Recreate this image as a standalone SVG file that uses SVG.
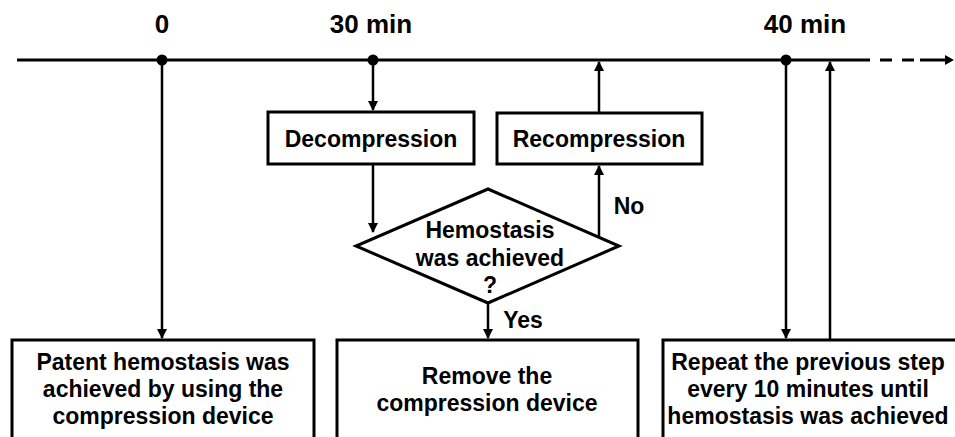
<svg xmlns="http://www.w3.org/2000/svg" width="955" height="437" viewBox="0 0 955 437">
<defs>
<marker id="ah" viewBox="0 0 10 10" refX="9" refY="5" markerWidth="4.2" markerHeight="4.2" orient="auto" markerUnits="strokeWidth">
<path d="M0,0 L10,5 L0,10 Z" fill="#000"/>
</marker>
</defs>
<style>
text{font-family:"Liberation Sans",Arial,sans-serif;font-weight:bold;fill:#000;text-anchor:middle}
.t{font-size:23px}
.h{font-size:26px}
.box{fill:#fff;stroke:#000;stroke-width:3}
.arr{stroke:#000;stroke-width:2.5;fill:none;marker-end:url(#ah)}
</style>
<rect width="955" height="437" fill="#fff"/>
<g id="timeline">
<line x1="17" y1="60" x2="858" y2="60" stroke="#000" stroke-width="3"/>
<line x1="858" y1="60" x2="920" y2="60" stroke="#000" stroke-width="3" stroke-dasharray="12,10"/>
<line x1="920" y1="60" x2="951" y2="60" stroke="#000" stroke-width="3"/>
<path d="M945,55 L954,60 L945,65 Z" fill="#000"/>
<circle cx="162" cy="60" r="5.5" fill="#000"/>
<circle cx="373" cy="60" r="5.5" fill="#000"/>
<circle cx="786" cy="60" r="5.5" fill="#000"/>
<text class="h" x="162" y="33">0</text>
<text class="h" x="371" y="33">30 min</text>
<text class="h" x="805" y="33">40 min</text>
</g>
<g id="connectors">
<line class="arr" x1="162" y1="60" x2="162" y2="338"/>
<line class="arr" x1="373" y1="60" x2="373" y2="110"/>
<line class="arr" x1="373" y1="164" x2="373" y2="232"/>
<line class="arr" x1="599" y1="237" x2="599" y2="166"/>
<line class="arr" x1="599" y1="113" x2="599" y2="62"/>
<line class="arr" x1="488" y1="303" x2="488" y2="338"/>
<line class="arr" x1="786" y1="60" x2="786" y2="338"/>
<line class="arr" x1="830" y1="340" x2="830" y2="62"/>
<text class="t" x="629" y="214">No</text>
<text class="t" x="523" y="328">Yes</text>
</g>
<g id="decompression">
<rect class="box" x="268" y="112" width="206" height="52"/>
<text class="t" x="371" y="147">Decompression</text>
</g>
<g id="recompression">
<rect class="box" x="497" y="113" width="205" height="51"/>
<text class="t" x="599" y="147">Recompression</text>
</g>
<g id="decision">
<path class="box" d="M488,189 L619,246 L488,303 L356,246 Z" stroke-width="2.5"/>
<text class="t" x="490" y="238">Hemostasis</text>
<text class="t" x="490" y="266">was achieved</text>
<text class="t" x="490" y="293">?</text>
</g>
<g id="box-patent">
<rect class="box" x="12" y="340" width="302" height="110"/>
<text class="t" x="163" y="370">Patent hemostasis was</text>
<text class="t" x="163" y="397">achieved by using the</text>
<text class="t" x="163" y="424">compression device</text>
</g>
<g id="box-remove">
<rect class="box" x="337" y="340" width="301" height="110"/>
<text class="t" x="487" y="384">Remove the</text>
<text class="t" x="487" y="411">compression device</text>
</g>
<g id="box-repeat">
<rect class="box" x="663" y="340" width="320" height="110"/>
<text class="t" x="808" y="370">Repeat the previous step</text>
<text class="t" x="808" y="397">every 10 minutes until</text>
<text class="t" x="808" y="424">hemostasis was achieved</text>
</g>
</svg>
